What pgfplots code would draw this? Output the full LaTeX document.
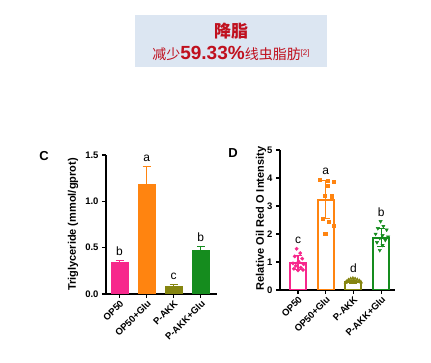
\documentclass[border=0pt]{standalone}
\usepackage{pgfplots}
\pgfplotsset{compat=1.18}
\usepackage{fontspec}
\setmainfont{Liberation Sans}
\newfontfamily\cjk{Noto Sans CJK SC}
\definecolor{cpink}{HTML}{F7288C}
\definecolor{corange}{HTML}{FF8410}
\definecolor{colive}{HTML}{858510}
\definecolor{cgreen}{HTML}{158C1E}
\definecolor{boxblue}{HTML}{DCE6F2}
\definecolor{dred}{HTML}{C0101E}
\pgfplotsset{
  common/.style={
    scale only axis,
    axis x line*=bottom, axis y line*=left,
    axis line style={line width=1.3pt,-},
    tick align=outside, major tick length=4pt,
    tick style={line width=1.1pt, black},
    xtick={0,1,2,3},
    xticklabels={OP50,OP50+Glu,P-AKK,P-AKK+Glu},
    xticklabel style={rotate=45, anchor=north east, inner sep=1pt, font=\bfseries\fontsize{9.5}{9.5}\selectfont},
    yticklabel style={font=\bfseries\fontsize{9.5}{9.5}\selectfont},
    /pgf/number format/assume math mode=true,
    ylabel style={font=\bfseries\fontsize{11}{11}\selectfont, anchor=center},
  },
}
\tikzset{lett/.style={font=\fontsize{12}{12}\selectfont, anchor=base, yshift=5pt}}
\begin{document}
\begin{tikzpicture}
\path[use as bounding box] (0pt,0pt) rectangle (431pt,363pt);
\fill[boxblue] (135pt,296pt) rectangle (327pt,348pt);
\node[text=dred, font=\cjk\bfseries\fontsize{17}{17}\selectfont] at (231pt,331.5pt) {降脂};
\node[text=dred, font=\fontsize{14}{14}\selectfont, inner sep=0pt] at (231pt,309.5pt) {{\cjk 减少}{\bfseries\fontsize{19}{19}\selectfont 59.33\%}{\cjk 线虫脂肪}\raisebox{4pt}{\fontsize{8}{8}\selectfont[2]}};
\node[font=\bfseries\fontsize{13}{13}\selectfont] at (44pt,207pt) {C};
\node[font=\bfseries\fontsize{13}{13}\selectfont] at (233pt,210pt) {D};

\begin{axis}[common,
  at={(106pt,69pt)}, anchor=south west,
  width=111pt, height=139pt,
  xmin=-0.5, xmax=3.6, ymin=0, ymax=1.5,
  ytick={0,0.5,1,1.5},
  yticklabel style={/pgf/number format/.cd, fixed, fixed zerofill, precision=1},
  ylabel={Triglyceride (mmol/gprot)},
  ylabel style={at={(axis description cs:-0.297,0.5)}},
]
\addplot[ybar, bar width=18pt, bar shift=0pt, fill=cpink, draw=none,
  error bars/.cd, y dir=plus, y explicit,
  error bar style={line width=1.2pt, cpink},
  error mark options={rotate=90, mark size=4pt, line width=1.2pt, cpink}]
  coordinates {(0,0.34) +- (0,0.02)};
\addplot[ybar, bar width=18pt, bar shift=0pt, fill=corange, draw=none,
  error bars/.cd, y dir=plus, y explicit,
  error bar style={line width=1.2pt, corange},
  error mark options={rotate=90, mark size=4pt, line width=1.2pt, corange}]
  coordinates {(1,1.19) +- (0,0.19)};
\addplot[ybar, bar width=18pt, bar shift=0pt, fill=colive, draw=none,
  error bars/.cd, y dir=plus, y explicit,
  error bar style={line width=1.2pt, colive},
  error mark options={rotate=90, mark size=4pt, line width=1.2pt, colive}]
  coordinates {(2,0.09) +- (0,0.015)};
\addplot[ybar, bar width=18pt, bar shift=0pt, fill=cgreen, draw=none,
  error bars/.cd, y dir=plus, y explicit,
  error bar style={line width=1.2pt, cgreen},
  error mark options={rotate=90, mark size=4pt, line width=1.2pt, cgreen}]
  coordinates {(3,0.48) +- (0,0.03)};
\node[lett] at (axis cs:0,0.36) {b};
\node[lett] at (axis cs:1,1.38) {a};
\node[lett] at (axis cs:2,0.105) {c};
\node[lett] at (axis cs:3,0.51) {b};
\end{axis}

\begin{axis}[common,
  at={(280pt,73pt)}, anchor=south west,
  width=115pt, height=140pt,
  xmin=-0.65, xmax=3.5, ymin=0, ymax=5,
  ytick={0,1,2,3,4,5},
  ylabel={Relative Oil Red O Intensity},
  ylabel style={at={(axis description cs:-0.165,0.51)}},
]
\addplot[ybar, bar width=16pt, bar shift=0pt, fill=white, draw=cpink, line width=2pt,
  error bars/.cd, y dir=both, y explicit,
  error bar style={line width=1.1pt, cpink},
  error mark options={rotate=90, mark size=4pt, line width=1.1pt, cpink}]
  coordinates {(0,0.97) +- (0,0.25)};
\addplot[ybar, bar width=16pt, bar shift=0pt, fill=white, draw=corange, line width=2pt,
  error bars/.cd, y dir=both, y explicit,
  error bar style={line width=1.1pt, corange},
  error mark options={rotate=90, mark size=4pt, line width=1.1pt, corange}]
  coordinates {(1,3.22) +- (0,0.68)};
\addplot[ybar, bar width=16pt, bar shift=0pt, fill=white, draw=colive, line width=2pt,
  error bars/.cd, y dir=both, y explicit,
  error bar style={line width=1.1pt, colive},
  error mark options={rotate=90, mark size=4pt, line width=1.1pt, colive}]
  coordinates {(2,0.30) +- (0,0.05)};
\addplot[ybar, bar width=16pt, bar shift=0pt, fill=white, draw=cgreen, line width=2pt,
  error bars/.cd, y dir=both, y explicit,
  error bar style={line width=1.1pt, cgreen},
  error mark options={rotate=90, mark size=4pt, line width=1.1pt, cgreen}]
  coordinates {(3,1.87) +- (0,0.33)};
\addplot[only marks, mark=*, mark size=1.7pt, cpink] coordinates {
  (-0.05,1.47) (0.08,1.32) (-0.12,1.2) (0.15,1.12) (0.02,1.02) (-0.18,0.95)
  (0.2,0.92) (-0.08,0.86) (0.1,0.8) (-0.15,0.76) (0.18,0.72) (0.0,0.7)};
\addplot[only marks, mark=square*, mark size=1.6pt, corange] coordinates {
  (0.78,3.93) (1.08,3.9) (1.28,3.88) (1.05,3.72) (0.95,3.38) (1.22,3.35)
  (0.88,2.55) (1.12,2.45) (1.28,2.3) (0.98,2.0)};
\addplot[only marks, mark=triangle*, mark size=1.9pt, colive] coordinates {
  (1.75,0.3) (1.82,0.36) (1.9,0.4) (1.98,0.42) (2.06,0.4) (2.14,0.37)
  (2.22,0.33) (2.27,0.28) (1.72,0.26) (2.0,0.34) (2.1,0.3) (1.88,0.3)};
\addplot[only marks, mark=triangle*, mark options={rotate=180}, mark size=1.9pt, cgreen] coordinates {
  (2.98,2.45) (3.08,2.28) (2.88,2.2) (3.2,2.15) (2.8,2.0) (3.05,1.95)
  (3.25,1.9) (2.95,1.85) (3.15,1.78) (2.85,1.7) (3.05,1.6) (2.95,1.42)};
\node[lett] at (axis cs:0,1.47) {c};
\node[lett] at (axis cs:1,3.95) {a};
\node[lett] at (axis cs:2,0.44) {d};
\node[lett] at (axis cs:3,2.45) {b};
\end{axis}
\end{tikzpicture}
\end{document}
